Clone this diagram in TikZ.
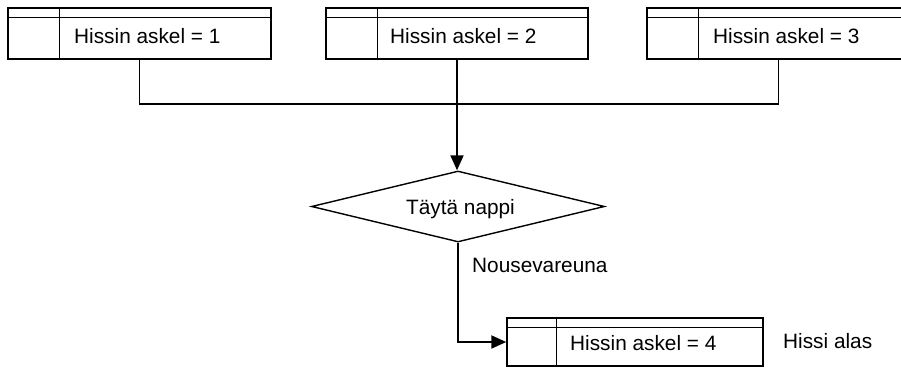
\documentclass[tikz,border=0pt]{standalone}
\usepackage{fontspec}
\setmainfont{Liberation Sans}
\usetikzlibrary{arrows.meta,shapes.geometric,calc}
\tikzset{
  stepbox/.style={draw, line width=1.5pt, rectangle, inner sep=0pt, minimum height=51pt},
  lbl/.style={anchor=base west, inner sep=0pt, font=\fontsize{20.8pt}{24pt}\selectfont},
  cond/.style={draw, line width=1.4pt, diamond, inner sep=0pt, minimum width=293pt, minimum height=71pt},
  thin/.style={line width=1.3pt},
  flow/.style={line width=2pt, -{Triangle[length=15pt,width=13pt]}}
}
\begin{document}
\begin{tikzpicture}[x=1pt,y=-1pt]
\useasboundingbox (0,0) rectangle (901,367);
\begin{scope}
\clip (0,0) rectangle (901,367);
% boxes
\node[stepbox, minimum width=263pt] (b1) at (139.5,33.5) {};
\node[stepbox, minimum width=262pt] (b2) at (457,33.5) {};
\node[stepbox, minimum width=263pt] (b3) at (778.5,33.5) {};
\node[stepbox, minimum width=256pt, minimum height=48pt] (b4) at (635,342) {};
\foreach \b/\d in {b1/52,b2/52,b3/52,b4/50}{
  \draw[line width=1.5pt] ($(\b.north west)+(0,10)$) -- ($(\b.north east)+(0,10)$);
  \draw[line width=1.5pt] ($(\b.north west)+(\d,0)$) -- ($(\b.south west)+(\d,0)$);
}
\node[lbl] (t1) at (74,43) {Hissin askel = 1};
\node[lbl] (t2) at (390,43) {Hissin askel = 2};
\node[lbl] (t3) at (713,43) {Hissin askel = 3};
\node[lbl] (t4) at (570,350) {Hissin askel = 4};
\node[lbl] (side) at (783,348) {Hissi alas};
% decision
\node[cond] (d) at (458,206.5) {};
\node[lbl] (dt) at (406,214) {Täytä nappi};
\node[lbl] (edge) at (472,272) {Nousevareuna};
% connectors
\coordinate (j) at (458,104);
\draw[thin] (b1.south) |- (j) -| (b3.south);
\draw[flow] (b2.south) -- (b2.south |- d.north);
\draw[flow] (d.south) |- (b4.west);
\end{scope}
\end{tikzpicture}
\end{document}
